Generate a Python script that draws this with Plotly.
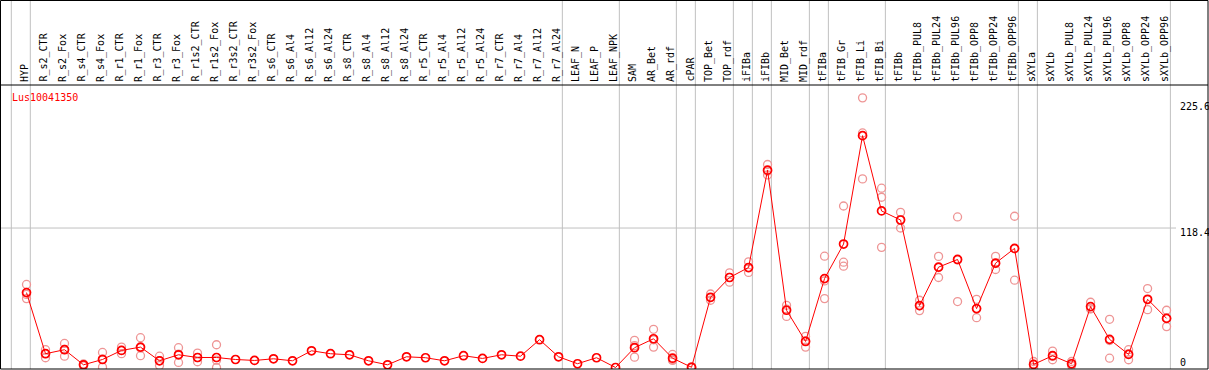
import plotly.graph_objects as go

gene_id = "Lus10041350"

categories = [
    "HYP", "R_s2_CTR", "R_s2_Fox", "R_s4_CTR", "R_s4_Fox", "R_r1_CTR", "R_r1_Fox",
    "R_r3_CTR", "R_r3_Fox", "R_r1s2_CTR", "R_r1s2_Fox", "R_r3s2_CTR", "R_r3s2_Fox",
    "R_s6_CTR", "R_s6_Al4", "R_s6_Al12", "R_s6_Al24", "R_s8_CTR", "R_s8_Al4",
    "R_s8_Al12", "R_s8_Al24", "R_r5_CTR", "R_r5_Al4", "R_r5_Al12", "R_r5_Al24",
    "R_r7_CTR", "R_r7_Al4", "R_r7_Al12", "R_r7_Al24", "LEAF_N", "LEAF_P", "LEAF_NPK",
    "SAM", "AR_Bet", "AR_rdf", "cPAR", "TOP_Bet", "TOP_rdf", "iFIBa", "iFIBb",
    "MID_Bet", "MID_rdf", "tFIBa", "tFIB_Gr", "tFIB_Li", "tFIB_Bi", "tFIBb",
    "tFIBb_PUL8", "tFIBb_PUL24", "tFIBb_PUL96", "tFIBb_OPP8", "tFIBb_OPP24",
    "tFIBb_OPP96", "sXYLa", "sXYLb", "sXYLb_PUL8", "sXYLb_PUL24", "sXYLb_PUL96",
    "sXYLb_OPP8", "sXYLb_OPP24", "sXYLb_OPP96",
]

means = [
    63.6, 11.7, 15.1, 2.3, 6.8, 14.5, 17.3, 5.7, 10.8, 8.5, 8.5, 6.8, 6.0,
    7.4, 5.7, 14.2, 11.7, 10.8, 5.7, 2.3, 9.1, 8.3, 5.7, 10.0, 7.7,
    10.8, 9.6, 23.6, 9.1, 3.2, 8.3, 0.0,
    16.8, 24.4, 7.9, 0.2, 59.6, 76.4, 84.9, 167.5, 48.6, 22.1, 75.5, 104.8,
    196.8, 132.9, 125.2, 52.6, 85.2, 91.7, 50.0, 88.6, 101.1,
    2.6, 10.0, 3.2, 51.7, 23.9, 11.1, 57.9, 41.7,
]

N = None
rep_a = [
    70.5, 15.1, 20.4, 3.0, 12.8, 17.3, 25.3, 9.6, 16.8, 12.2, 19.3, N, N,
    N, N, N, N, N, N, N, N, N, N, N, N, N, N, N, N, N, N, N,
    23.0, 32.4, 11.1, 0.6, 62.4, 80.3, 89.7, 172.3, 52.8, 26.4, 94.5, 137.1,
    228.9, 152.2, 131.7, 57.1, 94.3, 127.8, 57.9, 94.3, 128.4,
    5.1, 13.9, 5.1, 55.4, 40.9, 15.1, 67.0, 48.6,
]
rep_b = [
    62.0, 8.3, 9.6, 1.5, 0.3, 11.7, 10.0, 1.7, 4.3, 4.9, 0.0, N, N,
    N, N, N, N, N, N, N, N, N, N, N, N, N, N, N, N, N, N, N,
    8.8, 17.3, 6.0, 0.0, 57.1, 72.4, 80.7, 163.5, 43.4, 17.3, 58.5, 89.4,
    199.1, 144.5, 118.4, 48.3, 76.4, 56.0, 42.3, 83.2, 74.1,
    0.0, 6.6, 1.7, 50.0, 7.9, 6.6, 49.1, 34.7,
]
rep_c = [
    58.5, 11.8, 15.3, 2.4, 7.3, 14.5, 16.6, 5.8, 11.3, 8.4, 6.2, N, N,
    N, N, N, N, N, N, N, N, N, N, N, N, N, N, N, N, N, N, N,
    18.6, 23.5, 6.6, 0.0, 59.4, 76.5, 84.4, 166.7, 49.5, 22.6, 73.5, 86.0,
    160.1, 102.0, 125.5, 52.4, 84.9, 91.3, 49.8, 88.3, 100.8,
    2.7, 9.5, 2.8, 49.7, 22.9, 11.6, 57.6, 41.8,
]

# number of samples in each grey-separated group
group_sizes = [1, 28, 3, 3, 1, 2, 1, 1, 2, 1, 3, 7, 1, 7]

y_tick_values = [0, 118.4, 225.6]
y_tick_labels = ["0", "118.4", "225.6"]

# ---------------- layout constants ----------------
FONT = "DejaVu Sans Mono, monospace"
W, H = 1209, 370
TOP, BOTTOM = 85, 369
PLOT_W = 1208
PLOT_H = BOTTOM - TOP
GRID = "#c0c0c0"
RED = "#ff0000"
PINK = "#ee9595"


def py_to_paper(py):
    return (BOTTOM - py) / PLOT_H


fig = go.Figure()

for reps in (rep_a, rep_b, rep_c):
    fig.add_trace(go.Scatter(
        x=categories, y=reps, mode="markers",
        marker=dict(symbol="circle-open", size=8, color=PINK, line=dict(width=1.3)),
        hoverinfo="skip", showlegend=False,
    ))

fig.add_trace(go.Scatter(
    x=categories, y=means, mode="lines+markers",
    line=dict(color=RED, width=1),
    marker=dict(symbol="circle-open", size=8, color=RED, line=dict(width=1.7)),
    showlegend=False,
))

shapes = []
# vertical group separators
boundaries = [-1]
acc = -1
for g in group_sizes:
    acc += g
    boundaries.append(acc)
for b in boundaries:
    xb = b + 0.2
    shapes.append(dict(type="line", xref="x", yref="paper", x0=xb, x1=xb,
                       y0=0, y1=py_to_paper(0), layer="below",
                       line=dict(color=GRID, width=1)))
# horizontal mid gridline
shapes.append(dict(type="line", xref="paper", yref="y", x0=0, x1=1176 / PLOT_W,
                   y0=y_tick_values[1], y1=y_tick_values[1], layer="below",
                   line=dict(color=GRID, width=1)))
# outer border
shapes.append(dict(type="rect", xref="paper", yref="paper",
                   x0=0.5 / PLOT_W, x1=1, y0=0, y1=py_to_paper(0.5),
                   line=dict(color="black", width=1)))
# separator between labels and plot
shapes.append(dict(type="line", xref="paper", yref="paper", x0=0, x1=1,
                   y0=1, y1=1, line=dict(color="black", width=1)))

annotations = []
for c in categories:
    annotations.append(dict(
        x=c, xref="x", y=py_to_paper(84), yref="paper",
        text=c, textangle=-90, showarrow=False,
        xanchor="center", yanchor="bottom", xshift=-1.5,
        font=dict(family=FONT, size=10, color="black"),
    ))

annotations.append(dict(
    x=10 / PLOT_W, xref="paper", y=py_to_paper(97), yref="paper",
    text=gene_id, showarrow=False, xanchor="left", yanchor="middle",
    font=dict(family=FONT, size=10, color=RED),
))

yshifts = [5, -4.5, -5]
for v, lab, ys in zip(y_tick_values, y_tick_labels, yshifts):
    annotations.append(dict(
        x=1178 / PLOT_W, xref="paper", y=v, yref="y", text=lab,
        showarrow=False, xanchor="left", yanchor="middle", yshift=ys,
        font=dict(family=FONT, size=10, color="black"),
    ))

fig.update_layout(
    width=W, height=H,
    margin=dict(l=0, r=1, t=TOP, b=H - BOTTOM, pad=0),
    paper_bgcolor="white", plot_bgcolor="white",
    shapes=shapes, annotations=annotations,
    xaxis=dict(type="category", categoryorder="array", categoryarray=categories,
               range=[-1.395, 62.18], showticklabels=False, showgrid=False,
               zeroline=False, showline=False, ticks=""),
    yaxis=dict(range=[-1.27, 239.8], showticklabels=False, showgrid=False,
               zeroline=False, showline=False, ticks=""),
    font=dict(family=FONT, size=10),
)

fig.write_html("out.html", config={"displayModeBar": False},
               post_script="document.body.style.margin='0';")
